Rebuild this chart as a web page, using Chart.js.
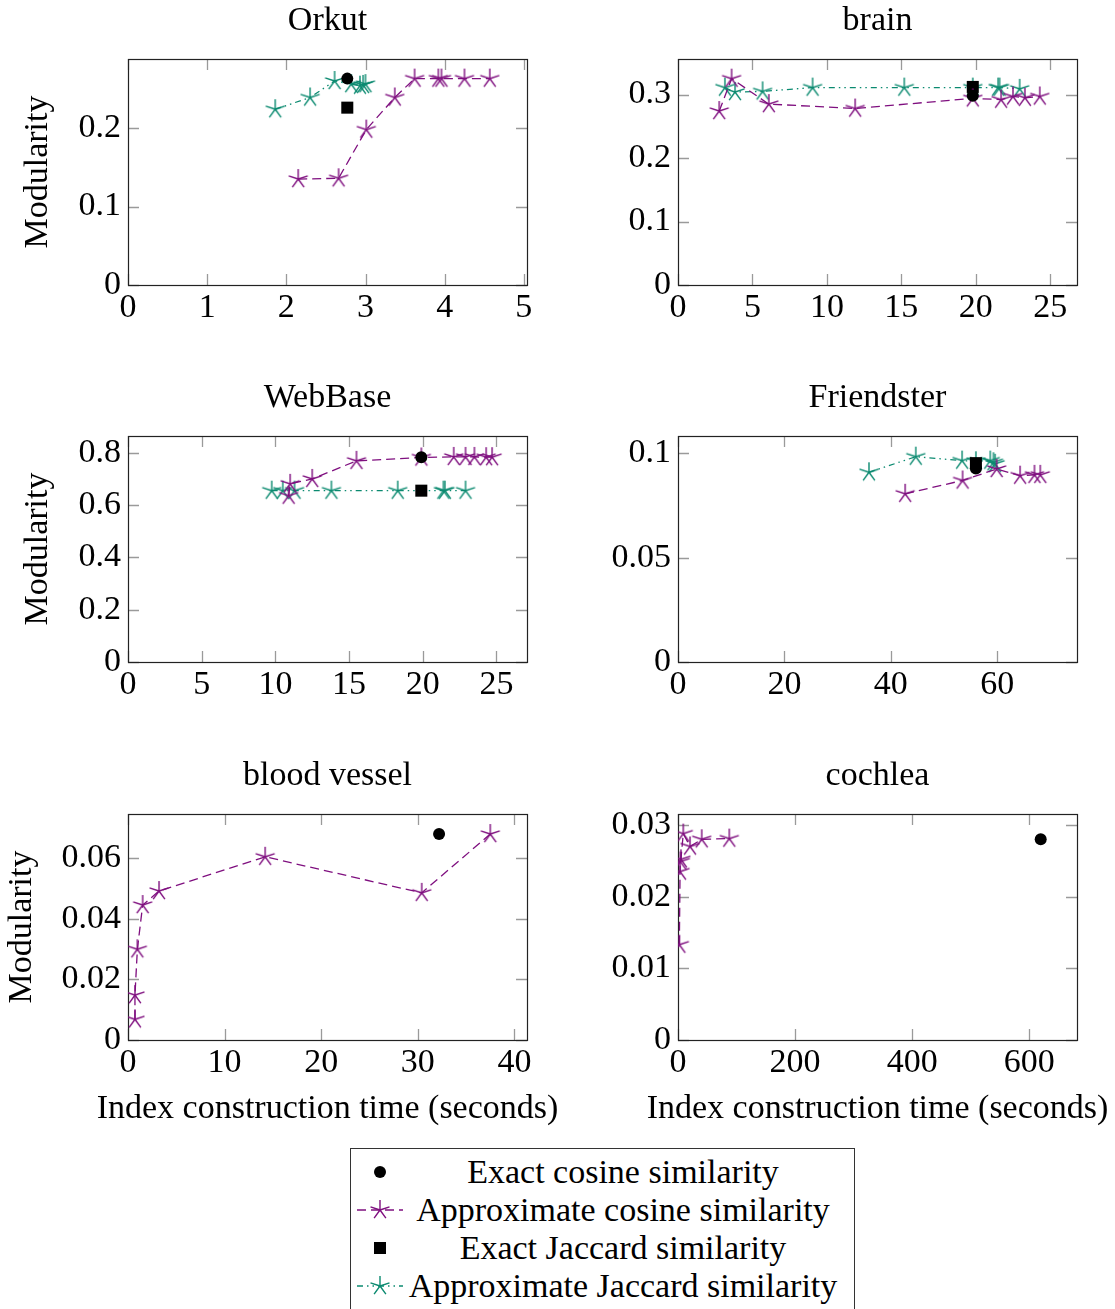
<!DOCTYPE html>
<html lang="en">
<head>
<meta charset="UTF-8">
<title>Modularity vs index construction time</title>
<script src="https://cdn.jsdelivr.net/npm/chart.js"></script>
<style>
  body { margin: 0; background: #fff; overflow: hidden; }
  #page { position: relative; width: 1115px; height: 1309px; overflow: hidden; }
  .panel { position: absolute; }
  #legend {
    position: absolute; left: 350px; top: 1148px; width: 503px;
    border: 1px solid #333; padding: 4px 0 12px 0;
    font-family: 'Liberation Serif', 'Times New Roman', serif; font-size: 34px;
  }
  .row { display: flex; align-items: center; height: 38px; line-height: 38px; }
  .row svg { margin-left: 6px; width: 46px; height: 38px; flex: none; }
  .row span { width: 440px; text-align: center; white-space: nowrap; }
</style>
</head>
<body>
<div id="page">
  <div class="panel" style="left:0;top:0"><canvas id="orkut" width="580" height="377"></canvas></div>
  <div class="panel" style="left:550px;top:0"><canvas id="brain" width="565" height="377"></canvas></div>
  <div class="panel" style="left:0;top:377px"><canvas id="webbase" width="580" height="377"></canvas></div>
  <div class="panel" style="left:550px;top:377px"><canvas id="friendster" width="565" height="377"></canvas></div>
  <div class="panel" style="left:0;top:755px"><canvas id="blood" width="580" height="390"></canvas></div>
  <div class="panel" style="left:550px;top:755px"><canvas id="cochlea" width="565" height="390"></canvas></div>

  <div id="legend">
    <div class="row">
      <svg viewBox="0 0 46 38"><circle cx="23" cy="19" r="6" fill="#000"/></svg>
      <span>Exact cosine similarity</span>
    </div>
    <div class="row">
      <svg viewBox="0 0 46 38">
        <line x1="0" y1="19" x2="46" y2="19" stroke="#7f0f7f" stroke-width="1.3" stroke-dasharray="9 5"/>
        <path d="M23 19L23 9M23 19L32.5 15.9M23 19L28.9 27.1M23 19L17.1 27.1M23 19L13.5 15.9" stroke="#7f0f7f" stroke-width="1.4" fill="none"/>
      </svg>
      <span>Approximate cosine similarity</span>
    </div>
    <div class="row">
      <svg viewBox="0 0 46 38"><rect x="17" y="13" width="12" height="12" fill="#000"/></svg>
      <span>Exact Jaccard similarity</span>
    </div>
    <div class="row">
      <svg viewBox="0 0 46 38">
        <line x1="0" y1="19" x2="46" y2="19" stroke="#0b8a70" stroke-width="1.3" stroke-dasharray="6 4 1.5 4 1.5 4"/>
        <path d="M23 19L23 9M23 19L32.5 15.9M23 19L28.9 27.1M23 19L17.1 27.1M23 19L13.5 15.9" stroke="#0b8a70" stroke-width="1.4" fill="none"/>
      </svg>
      <span>Approximate Jaccard similarity</span>
    </div>
  </div>
</div>

<script>
  // [time (s), modularity] pairs
  const orkutExactCos = [[2.77, 0.263]];
  const orkutApproxCos = [[2.15, 0.135], [2.66, 0.136], [3.01, 0.198], [3.37, 0.239], [3.62, 0.263], [3.92, 0.263], [3.96, 0.263], [4.25, 0.263], [4.57, 0.263]];
  const orkutExactJac = [[2.77, 0.226]];
  const orkutApproxJac = [[1.86, 0.224], [2.30, 0.239], [2.61, 0.260], [2.82, 0.256], [2.93, 0.254], [2.97, 0.255], [3.00, 0.256]];

  const brainExactCos = [[19.8, 0.298]];
  const brainApproxCos = [[2.77, 0.274], [3.6, 0.325], [6.1, 0.285], [11.9, 0.278], [19.8, 0.294], [21.7, 0.292], [22.5, 0.297], [23.3, 0.295], [24.3, 0.297]];
  const brainExactJac = [[19.8, 0.312]];
  const brainApproxJac = [[3.15, 0.311], [3.83, 0.304], [5.68, 0.305], [9.04, 0.311], [15.2, 0.311], [19.8, 0.311], [21.5, 0.311], [21.6, 0.311], [22.95, 0.309]];

  const webbaseExactCos = [[19.9, 0.783]];
  const webbaseApproxCos = [[10.9, 0.636], [11.0, 0.681], [12.5, 0.700], [15.5, 0.769], [19.9, 0.782], [22.1, 0.784], [22.9, 0.784], [23.5, 0.784], [24.3, 0.783], [24.7, 0.783]];
  const webbaseExactJac = [[19.9, 0.655]];
  const webbaseApproxJac = [[9.75, 0.655], [10.5, 0.655], [11.3, 0.655], [13.8, 0.655], [18.3, 0.655], [21.4, 0.655], [21.5, 0.655], [22.9, 0.655]];

  const friendsterExactCos = [[56.0, 0.0927]];
  const friendsterApproxCos = [[42.7, 0.0806], [53.5, 0.0870], [59.9, 0.0925], [64.3, 0.0893], [67.0, 0.0897], [68.1, 0.0897]];
  const friendsterExactJac = [[56.0, 0.0953]];
  const friendsterApproxJac = [[35.9, 0.0909], [44.7, 0.0984], [53.4, 0.0965], [56.0, 0.0962], [58.7, 0.0965], [59.3, 0.0957], [59.6, 0.0950]];

  const bloodExactCos = [[32.2, 0.0679]];
  const bloodApproxCos = [[0.72, 0.0068], [0.72, 0.0148], [0.97, 0.0299], [1.52, 0.0445], [3.21, 0.0491], [14.2, 0.0604], [30.4, 0.0485], [37.5, 0.0679]];

  const cochleaExactCos = [[619.5, 0.0280]];
  const cochleaApproxCos = [[2.3, 0.0133], [3.5, 0.0235], [4.0, 0.0249], [5.0, 0.0252], [9.0, 0.0288], [20.5, 0.0270], [40.5, 0.0280], [87.6, 0.0281]];

  const X_TITLE = 'Index construction time (seconds)';

  const FONT = "'Liberation Serif', 'Times New Roman', serif";
  Chart.defaults.font.family = FONT;
  Chart.defaults.font.size = 34;
  Chart.defaults.font.lineHeight = 1.2;
  Chart.defaults.color = '#000';

  const PURPLE = '#7f0f7f';
  const TEAL = '#0b8a70';

  // five-spoke star like the pgfplots "star" mark
  function starImage(color) {
    const c = document.createElement('canvas');
    c.width = 24; c.height = 24;
    const g = c.getContext('2d');
    g.strokeStyle = color;
    g.lineWidth = 1.4;
    g.beginPath();
    for (let k = 0; k < 5; k++) {
      const a = -Math.PI / 2 + k * 2 * Math.PI / 5;
      g.moveTo(12, 12);
      g.lineTo(12 + 10 * Math.cos(a), 12 + 10 * Math.sin(a));
    }
    g.stroke();
    return c;
  }
  const purpleStar = starImage(PURPLE);
  const tealStar = starImage(TEAL);

  const toPts = arr => arr.map(p => ({ x: p[0], y: p[1] }));
  const fmt = v => String(parseFloat(Number(v).toFixed(6)));

  function datasets(exactCos, approxCos, exactJac, approxJac) {
    return [
      { label: 'Exact cosine similarity', data: toPts(exactCos), showLine: false,
        pointStyle: 'circle', pointRadius: 6, backgroundColor: '#000', borderColor: '#000', borderWidth: 0 },
      { label: 'Approximate cosine similarity', data: toPts(approxCos), showLine: true,
        borderColor: PURPLE, borderWidth: 1.3, borderDash: [9, 5], pointStyle: purpleStar, pointRadius: 10 },
      { label: 'Exact Jaccard similarity', data: toPts(exactJac), showLine: false,
        pointStyle: 'rect', pointRadius: 8.5, backgroundColor: '#000', borderColor: '#000', borderWidth: 0 },
      { label: 'Approximate Jaccard similarity', data: toPts(approxJac), showLine: true,
        borderColor: TEAL, borderWidth: 1.3, borderDash: [6, 4, 1.5, 4, 1.5, 4], pointStyle: tealStar, pointRadius: 10 }
    ];
  }

  // box around the plot with inward ticks on all four sides
  const framePlugin = {
    id: 'frame',
    beforeDatasetsDraw(chart) {
      const { ctx, chartArea: a, scales: { x, y } } = chart;
      const len = 11;
      ctx.save();
      ctx.strokeStyle = '#9a9a9a';
      ctx.lineWidth = 1.3;
      ctx.beginPath();
      x.ticks.forEach(t => {
        const px = Math.round(x.getPixelForValue(t.value)) + 0.5;
        ctx.moveTo(px, a.bottom); ctx.lineTo(px, a.bottom - len);
        ctx.moveTo(px, a.top); ctx.lineTo(px, a.top + len);
      });
      y.ticks.forEach(t => {
        const py = Math.round(y.getPixelForValue(t.value)) + 0.5;
        ctx.moveTo(a.left, py); ctx.lineTo(a.left + len, py);
        ctx.moveTo(a.right, py); ctx.lineTo(a.right - len, py);
      });
      ctx.stroke();
      ctx.strokeStyle = '#222';
      ctx.lineWidth = 1.2;
      ctx.strokeRect(Math.round(a.left) + 0.5, Math.round(a.top) + 0.5,
        Math.round(a.right - a.left), Math.round(a.bottom - a.top));
      ctx.restore();
    }
  };

  // x-axis label drawn at full width (the scale title would squeeze it to the plot width)
  const xTitlePlugin = {
    id: 'xTitle',
    afterDraw(chart, args, opts) {
      if (!opts.text) return;
      const { ctx, chartArea: a } = chart;
      ctx.save();
      ctx.font = '34px ' + FONT;
      ctx.fillStyle = '#000';
      ctx.textAlign = 'center';
      ctx.textBaseline = 'middle';
      ctx.fillText(opts.text, (a.left + a.right) / 2, a.bottom + opts.offset);
      ctx.restore();
    }
  };

  function makePanel(id, title, sets, xMax, xStep, yMax, yStep, yTitlePad, showXTitle) {
    const canvas = document.getElementById(id);
    const W = canvas.width, H = canvas.height;
    return new Chart(canvas, {
      type: 'scatter',
      data: { datasets: datasets(...sets) },
      options: {
        responsive: false,
        animation: false,
        layout: { padding: { left: 0, right: W - 527, top: 0, bottom: 0 } },
        plugins: {
          legend: { display: false },
          tooltip: { enabled: false },
          title: { display: true, text: title, fullSize: false, font: { size: 34, weight: 'normal' },
            padding: { top: 0.6, bottom: 17.6 } },
          xTitle: { text: showXTitle ? X_TITLE : '', offset: 69 }
        },
        scales: {
          x: {
            type: 'linear', min: 0, max: xMax,
            afterFit: s => { s.height = H - 285; },
            grid: { display: false, drawTicks: false },
            border: { display: false },
            ticks: { stepSize: xStep, includeBounds: false, autoSkip: false, maxRotation: 0,
              padding: 2.6, callback: fmt }
          },
          y: {
            type: 'linear', min: 0, max: yMax,
            afterFit: s => { s.width = 128; },
            grid: { display: false, drawTicks: false },
            border: { display: false },
            ticks: { stepSize: yStep, includeBounds: false, autoSkip: false, padding: 7, callback: fmt },
            title: { display: yTitlePad !== null, text: 'Modularity',
              padding: { top: yTitlePad || 0, bottom: 0 } }
          }
        }
      },
      plugins: [framePlugin, xTitlePlugin]
    });
  }

  makePanel('orkut', 'Orkut', [orkutExactCos, orkutApproxCos, orkutExactJac, orkutApproxJac],
    5.04, 1, 0.288, 0.1, 17.6, false);
  makePanel('brain', 'brain', [brainExactCos, brainApproxCos, brainExactJac, brainApproxJac],
    26.8, 5, 0.356, 0.1, null, false);
  makePanel('webbase', 'WebBase', [webbaseExactCos, webbaseApproxCos, webbaseExactJac, webbaseApproxJac],
    27.07, 5, 0.864, 0.2, 17.6, false);
  makePanel('friendster', 'Friendster', [friendsterExactCos, friendsterApproxCos, friendsterExactJac, friendsterApproxJac],
    75, 20, 0.1083, 0.05, null, false);
  makePanel('blood', 'blood vessel', [bloodExactCos, bloodApproxCos, [], []],
    41.3, 10, 0.0745, 0.02, 1.6, true);
  makePanel('cochlea', 'cochlea', [cochleaExactCos, cochleaApproxCos, [], []],
    681.5, 200, 0.03153, 0.01, null, true);
</script>
</body>
</html>
